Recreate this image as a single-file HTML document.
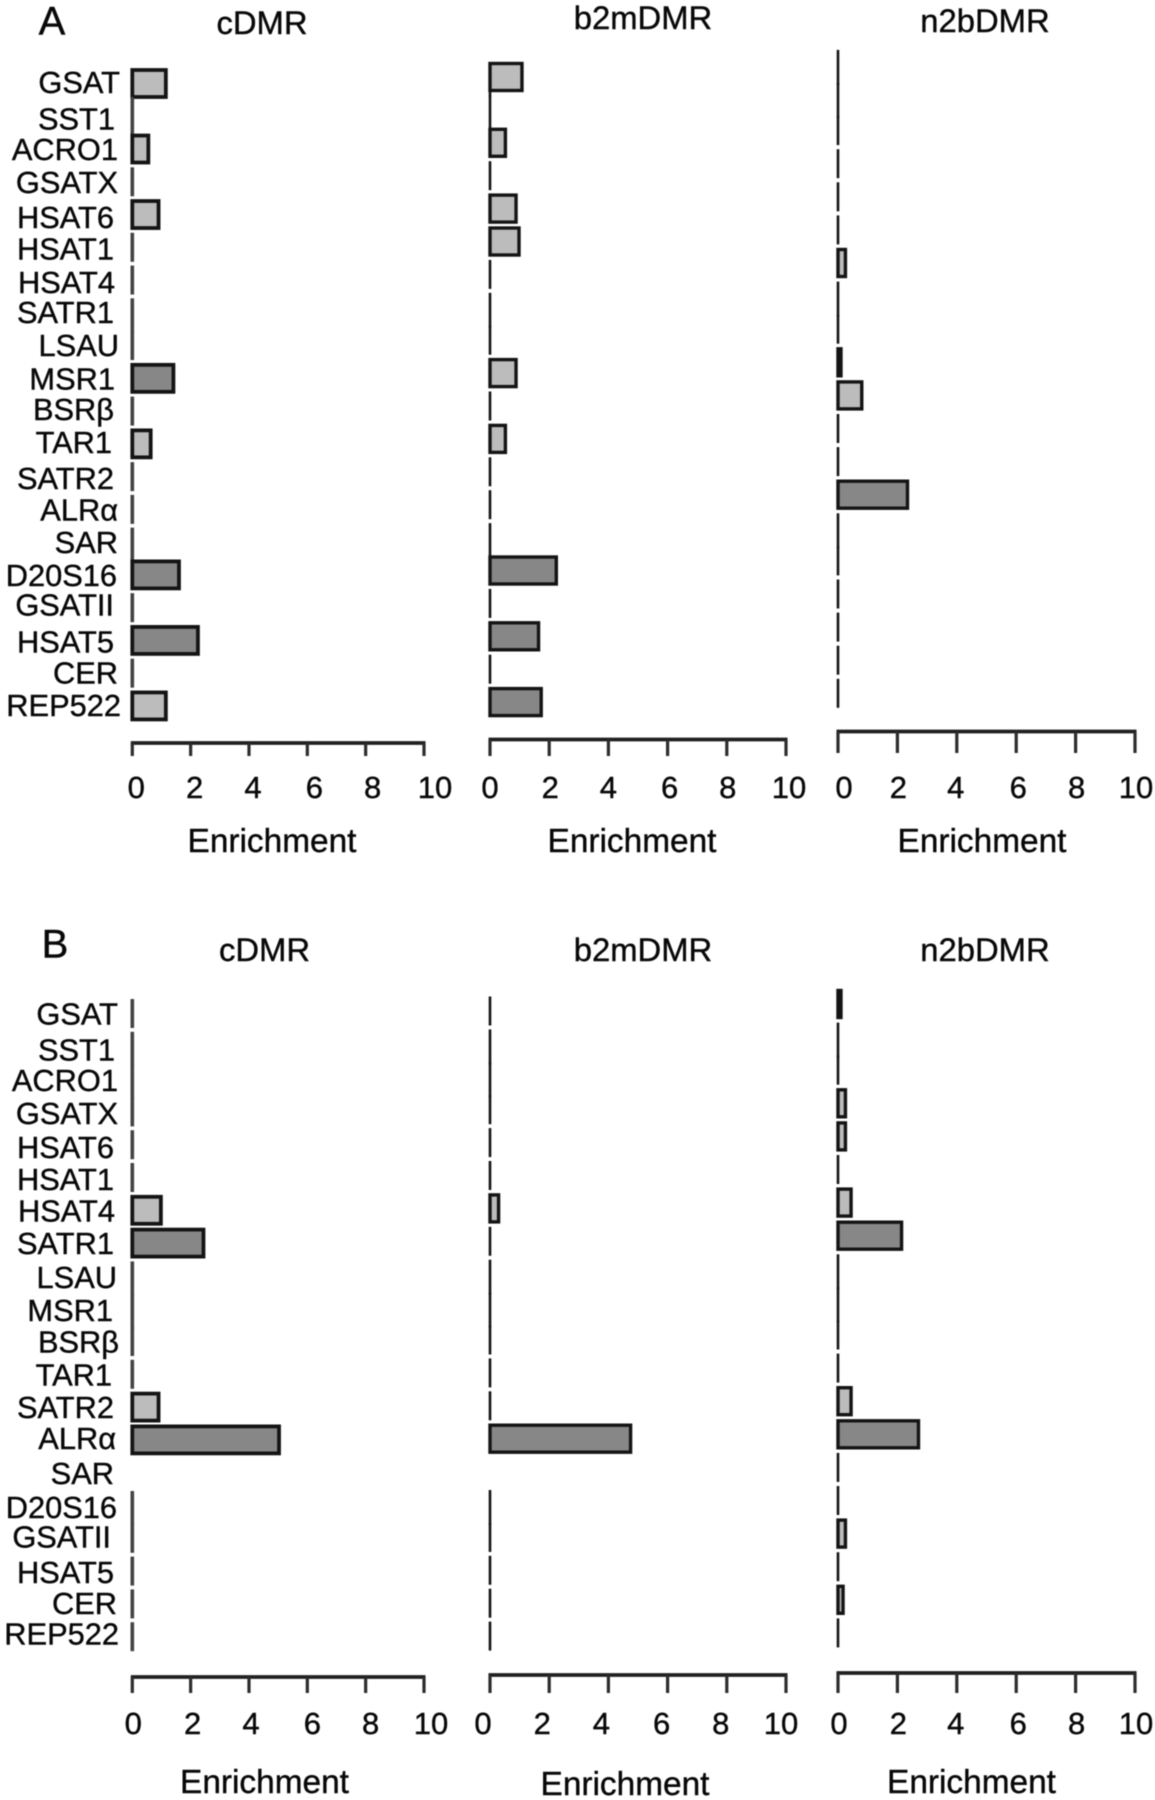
<!DOCTYPE html>
<html lang="en">
<head>
<meta charset="utf-8">
<title>Satellite repeat enrichment</title>
<style>
html,body{margin:0;padding:0;background:#fff;}
#chart{display:block;width:1155px;height:1800px;filter:blur(0.45px);}
text{font-family:"Liberation Sans","DejaVu Sans",sans-serif;fill:#080808;stroke:#080808;stroke-width:0.4px;}
</style>
</head>
<body>
<svg id="chart" xmlns="http://www.w3.org/2000/svg" width="1155" height="1800" viewBox="0 0 1155 1800"></svg>
<script>
// ---- data ----
const categories = ["GSAT","SST1","ACRO1","GSATX","HSAT6","HSAT1","HSAT4","SATR1","LSAU","MSR1","BSRβ","TAR1","SATR2","ALRα","SAR","D20S16","GSATII","HSAT5","CER","REP522"];
const tickValues = [0,2,4,6,8,10];
const valuesACdmr = [1.15,0,0.55,0,0.9,0,0,0,0,1.41,0,0.63,0,0,0,1.6,0,2.25,0,1.15];
const valuesAB2m  = [1.08,0,0.52,0,0.88,0.98,0,0,0,0.88,0,0.52,0,0,0,2.24,0,1.64,0,1.73];
const valuesAN2b  = [0,0,0,0,0,0,0.25,0,0,0.1,0.8,0,0,2.34,0,0,0,0,0,0];
const valuesBCdmr = [0,0,0,0,0,0,0.98,2.44,0,0,0,0,0.9,5.03,null,0,0,0,0,0];
const valuesBB2m  = [0,0,0,0,0,0,0.29,0,0,0,0,0,0,4.75,null,0,0,0,0,0];
const valuesBN2b  = [0.1,0,0,0.25,0.25,0,0.44,2.14,0,0,0,0,0.44,2.71,0,0,0.25,0,0.17,0];
const strongThreshold = 1.25;

// ---- layout ----
const layoutLabelDxA = [-1,-6,-3,-3,-7,-7,-6,-7,-2,-6,-7,-9,-7,-3,-3,-4,-7,-7,-3,0];
const layoutLabelDyA = [-1.5,2,0,0,2.5,1,2,-1,-0.5,0,-2,-2,1.5,0,0,0,-3,1,-1,-1];
const layoutLabelDxB = [-3,-6,-3,-3,-7,-7,-6,-7,-4,-8,-2,-9,-7,-5,-7,-4,-10,-7,-4,-2];
const layoutLabelDyB = [0,3,1,1,2,1.5,0,0,1,1,0,0,0,-2,0,1.5,-2,1,-1,-3.5];

const panels = [
 {id:'a-cdmr',title:'cDMR',vals:valuesACdmr,x0:132.3,x10:424,c0:83.5,step:32.76,axisY:743,tickY:756,tickLabelY:787,shift:[4,4,4,7,7,11],xlabX:272,xlabY:840,titleX:262,titleY:22,join:[0,1,7,14],heavy:true},
 {id:'a-b2m',title:'b2mDMR',vals:valuesAB2m,x0:490,x10:786,c0:77,step:32.9,axisY:739.5,tickY:756,tickLabelY:787,shift:[0,1,0,2,1,3],xlabX:632,xlabY:840,titleX:643,titleY:17,join:[0,1,7,14],heavy:false},
 {id:'a-n2b',title:'n2bDMR',vals:valuesAN2b,x0:838,x10:1135,c0:64.4,step:33.1,axisY:731.5,tickY:753,tickLabelY:787,shift:[6,1,-1,2,1,1],xlabX:982,xlabY:840,titleX:985,titleY:20,join:[0,1,7,14],heavy:false},
 {id:'b-cdmr',title:'cDMR',vals:valuesBCdmr,x0:132.3,x10:424,c0:1013.5,step:32.8,axisY:1677,tickY:1693,tickLabelY:1723,shift:[1,2,2,5,5,7],xlabX:264.5,xlabY:1781,titleX:264.5,titleY:949,join:[1,2,8,9,15],heavy:true},
 {id:'b-b2m',title:'b2mDMR',vals:valuesBB2m,x0:490,x10:786,c0:1011,step:32.9,axisY:1675,tickY:1693,tickLabelY:1723,shift:[-7,-7,-7,-6,-6,-5],xlabX:625,xlabY:1783,titleX:643,titleY:949,join:[1,2,8,9,15],heavy:false},
 {id:'b-n2b',title:'n2bDMR',vals:valuesBN2b,x0:838,x10:1135,c0:1004,step:33.1,axisY:1673,tickY:1693,tickLabelY:1723,shift:[1,1,-1,2,1,1],xlabX:971.5,xlabY:1781,titleX:985,titleY:949,join:[1,8,9],heavy:false}
];

const svg = document.getElementById('chart');
const NS = 'http://www.w3.org/2000/svg';

function make(tag, attrs, parent){
  const el = document.createElementNS(NS, tag);
  for(const k in attrs){ el.setAttribute(k, attrs[k]); }
  parent.appendChild(el);
  return el;
}
function centeredText(str, x, yCenter, size, anchor, parent){
  const el = make('text',{x:x,y:yCenter+size*0.36,'font-size':size,'text-anchor':anchor},parent);
  el.textContent = str;
  return el;
}

const barHeight = 27;

function joinsNext(p, i){
  return p.join.indexOf(i) >= 0 && i + 1 < p.vals.length && p.vals[i + 1] === 0;
}

panels.forEach(function(p){
  const xScale = function(v){ return p.x0 + (p.x10 - p.x0) * v / 10; };
  const yScale = function(i){ return p.c0 + p.step * i; };

  const g = make('g',{},svg);
  
  

  const title = centeredText(p.title, p.titleX, p.titleY, 32.8, 'middle', g);
  
  

  const lineWidth = p.heavy ? 3.6 : 2.6;
  const lineColor = p.heavy ? '#444444' : '#141414';
  const barStroke = p.heavy ? 3.8 : 3.4;

  p.vals.forEach(function(v, i){
    if(v === null){ return; }
    const yc = yScale(i);
    const top = yc - barHeight/2;
    if(v === 0){
      const joined = p.join.indexOf(i) >= 0;
      const nextDrawn = i + 1 < p.vals.length && p.vals[i + 1] !== null;
      const yEnd = (joined && nextDrawn) ? yScale(i + 1) - barHeight/2 : top + barHeight;
      const line = make('line',{x1:p.x0,x2:p.x0,y1:top - 1,y2:yEnd + 1,stroke:lineColor,'stroke-width':lineWidth},g);
      
      
    } else {
      const fill = v >= strongThreshold ? '#878787' : '#bcbcbc';
      const rect = make('rect',{x:xScale(0),y:top,width:xScale(v)-xScale(0),height:barHeight,fill:fill,stroke:'#141414','stroke-width':barStroke},g);
      
      
      if(joinsNext(p, i)){
        const link = make('line',{x1:p.x0,x2:p.x0,y1:top + barHeight,y2:yScale(i + 1) - barHeight/2,stroke:lineColor,'stroke-width':lineWidth},g);
        
        
      }
    }
  });

  const axis = make('g',{},g);
  
  
  const baseline = make('line',{x1:p.x0-1.5,x2:p.x10+1.5,y1:p.axisY,y2:p.axisY,stroke:'#202020','stroke-width':3.8},axis);
  
  
  tickValues.forEach(function(t, k){
    const tx = xScale(t);
    const tick = make('line',{x1:tx,x2:tx,y1:p.axisY,y2:p.tickY,stroke:'#2c2c2c','stroke-width':3.2},axis);
    
    
    const label = centeredText(String(t), tx + p.shift[k], p.tickLabelY, 31, 'middle', axis);
    
    
  });

  const xTitle = centeredText('Enrichment', p.xlabX, p.xlabY, 33.4, 'middle', g);
  
  
});

function drawCategoryLabels(dx, dy, c0, step, rowName){
  const g = make('g',{},svg);
  
  
  categories.forEach(function(name, i){
    const label = centeredText(name, 121 + dx[i], c0 + step * i + dy[i], 30.8, 'end', g);
    
    
  });
}
drawCategoryLabels(layoutLabelDxA, layoutLabelDyA, 83.5, 32.76, 'category-labels-a');
drawCategoryLabels(layoutLabelDxB, layoutLabelDyB, 1013.5, 32.8, 'category-labels-b');

const letterA = centeredText('A', 52, 20, 40, 'middle', svg);


const letterB = centeredText('B', 55, 943, 40, 'middle', svg);


</script>
</body>
</html>
